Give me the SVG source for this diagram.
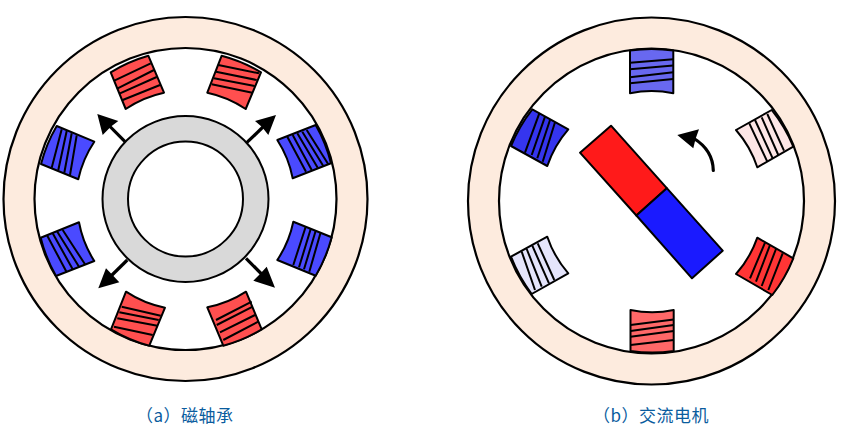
<svg xmlns="http://www.w3.org/2000/svg" width="844" height="432" viewBox="0 0 844 432">
<style>
.stator{fill:#fdebde;stroke:#000;stroke-width:2.2}
.bore{fill:#fff;stroke:#000;stroke-width:2.2}
.coil{stroke:#000;stroke-width:2;stroke-linejoin:round}
.w{fill:none;stroke:#000;stroke-width:2}
.mag{stroke:#000;stroke-width:2;stroke-linejoin:round}
.sh{fill:none;stroke:#000;stroke-width:3.2}
.hd{fill:#000;stroke:none}
.cap{font-family:"Noto Sans CJK SC","Noto Sans",sans-serif;font-size:17px;letter-spacing:.5px;fill:#0a5c9e}
.r1{fill:#ff4f4f}.b1{fill:#4a4aff}
</style>
<g id="motor-a">
<circle class="stator" cx="185.5" cy="199" r="182"/>
<circle class="bore" cx="185.5" cy="199" r="151"/>
</g>
<g id="rotor-a">
<circle cx="185.5" cy="199" r="83" fill="#d9d9d9" stroke="#000" stroke-width="2"/>
<circle cx="185.5" cy="199" r="57.5" fill="#fff" stroke="#000" stroke-width="2"/>
</g>
<g id="coil-a1"><path class="coil r1" d="M110.7 72.3A151 151 0 0 1 148.3 55.7L164 92.7A108 108 0 0 0 125.7 109Z"/><path class="w" d="M114.3 80.7L150.7 63.3M117.7 88.3L154 70M120 93.3L156.7 77M122.7 100L160 85"/></g>
<g id="coil-a2"><path class="coil r1" d="M221.7 55.7A151 151 0 0 1 261 72.3L245.7 109A108 108 0 0 0 207.3 92.7Z"/><path class="w" d="M218.3 65L259 73.3M216 71.7L256.7 80M214 78.3L254.7 86M211.7 84.3L252.3 92.7"/></g>
<g id="coil-a3"><path class="coil b1" d="M277.3 140L315.7 125A151 151 0 0 1 331 163.3L292.7 178.3A108 108 0 0 0 277.3 140Z"/><path class="w" d="M287.3 136.7L306 171.7M292.7 135L311.7 170M297.3 133.3L317.7 167.7M302.3 131.7L323.3 166M306.7 130L328.3 164.3"/></g>
<g id="coil-a4"><path class="coil b1" d="M56.7 126L94.3 141.7A108 108 0 0 0 78.3 179.3L41 164A151 151 0 0 1 56.7 126Z"/><path class="w" d="M61.7 129.3L51.7 167.7M66.7 131L58.3 170M71.7 133.3L64.3 172.7M76.7 135.3L70 175"/></g>
<g id="coil-a5"><path class="coil b1" d="M40.7 237.7L79 222.3A108 108 0 0 0 94.3 261L56 276A151 151 0 0 1 40.7 237.7Z"/><path class="w" d="M47.3 235.7L66.7 272.3M52.7 233.3L72.7 269.3M57.3 231.7L79 266.7M62.7 230L85 264.3"/></g>
<g id="coil-a6"><path class="coil r1" d="M126 291.7A108 108 0 0 0 165 307.7L149.3 345.7A151 151 0 0 1 111 329.3Z"/><path class="w" d="M121.7 306.7L160.7 315.7M119.3 312.3L158.7 320M117.3 318.3L157.3 325.7M114 326.7L152.7 335"/></g>
<g id="coil-a7"><path class="coil b1" d="M293.3 221.7L331.7 237.3A151 151 0 0 1 315.7 275.7L277.3 260A108 108 0 0 0 293.3 221.7Z"/><path class="w" d="M305.7 226.7L293.3 265M310.7 229L299 267.3M315.7 230.7L304 269.3M320.7 232.3L309.3 271.7"/></g>
<g id="coil-a8"><path class="coil r1" d="M246 291.7L261.7 329.3A151 151 0 0 1 223.3 345.7L207.3 307.3A108 108 0 0 0 246 291.7Z"/><path class="w" d="M251.7 301.7L216 320M252.7 306.7L216.7 325M255 315L220 332.3M258.3 321.7L223.3 340"/></g>
<g id="motor-b">
<circle class="stator" cx="651.5" cy="201" r="183.5"/>
<circle class="bore" cx="651.5" cy="201" r="152.5"/>
</g>
<g id="coil-b1"><path class="coil" fill="#6868f0" d="M630 50.5A152 152 0 0 1 673.3 50.5V93.3A108 108 0 0 0 630 93.3Z"/><path class="w" d="M630 62.7L673.3 59.3M630 69.3L673.3 65.5M630 77.3L673.3 72.3M630 83.3L673.3 79"/></g>
<g id="coil-b2"><path class="coil" fill="#3535ee" d="M532.3 109.3L568.3 129.3A108 108 0 0 0 547.3 166L511 146A152 152 0 0 1 532.3 109.3Z"/><path class="w" d="M539.3 113.3L525 152.7M545 116.7L531.7 155M550 120L537.3 158.3M555 122.3L542.7 161.7"/></g>
<g id="coil-b3"><path class="coil" fill="#fde6e6" d="M736 130L771.7 110A152 152 0 0 1 793.3 146.7L757.3 167.3A108 108 0 0 0 736 130Z"/><path class="w" d="M749.3 123.3L767.3 161.7M755 120L772.7 158.3M761.7 117.3L778.3 155M767.3 114L784 150.7"/></g>
<g id="coil-b4"><path class="coil" fill="#e4e4fb" d="M511 256.7L547.3 236.7A108 108 0 0 0 568.3 273.3L531.7 294A152 152 0 0 1 511 256.7Z"/><path class="w" d="M521.7 251.7L535 290M526.7 249L541.7 286.7M532.3 245.7L549 283.3M537.7 243.3L554.3 280"/></g>
<g id="coil-b5"><path class="coil" fill="#ff3535" d="M757.3 237.7L793.3 258.3A152 152 0 0 1 772.3 295L736 274A108 108 0 0 0 757.3 237.7Z"/><path class="w" d="M765 242.7L750 278.3M770 245L756 281.7M776 249L761.7 286M782.7 253.3L768.3 290"/></g>
<g id="coil-b6"><path class="coil" fill="#ff6868" d="M630.5 310A108 108 0 0 0 673.7 310V351A152 152 0 0 1 630.5 351Z"/><path class="w" d="M630.5 325L673.7 319.5M630.5 331L673.7 325M630.5 336.7L673.7 331M630.5 345L673.7 340"/></g>
<g id="magnet">
<path class="mag" fill="#ff1a1a" d="M611 125.7L580 152.7L636.4 215.5L666.8 188.2Z"/>
<path class="mag" fill="#1a1aff" d="M666.8 188.2L636.4 215.5L692 278.3L722.7 250.7Z"/>
</g>
<g id="connectors">
<path class="sh" d="M125 141.7L108 124.5"/><path class="hd" d="M97.3 114L118.3 121L111 126.5L102.7 135Z"/>
<path class="sh" d="M246.7 142.7L264 126"/><path class="hd" d="M276 115L255 121L262 127L268.3 135Z"/>
<path class="sh" d="M127.3 260L110 277"/><path class="hd" d="M98.3 288.3L106 268.3L112.5 275L119.3 282.3Z"/>
<path class="sh" d="M246 258.3L264 276.5"/><path class="hd" d="M275 287.7L266.7 266.7L260 274L253.3 280.7Z"/>
<path class="sh" stroke-linecap="round" d="M713.3 170.5C713 156 706 146 694 138.5"/><path class="hd" d="M677.3 135L699 129.3L695.5 139L693.3 148.3Z"/>
</g>
<g id="caption-a"><text class="cap" x="136" y="422">（a）磁轴承</text></g>
<g id="caption-b"><text class="cap" x="593" y="422">（b）交流电机</text></g>
</svg>
